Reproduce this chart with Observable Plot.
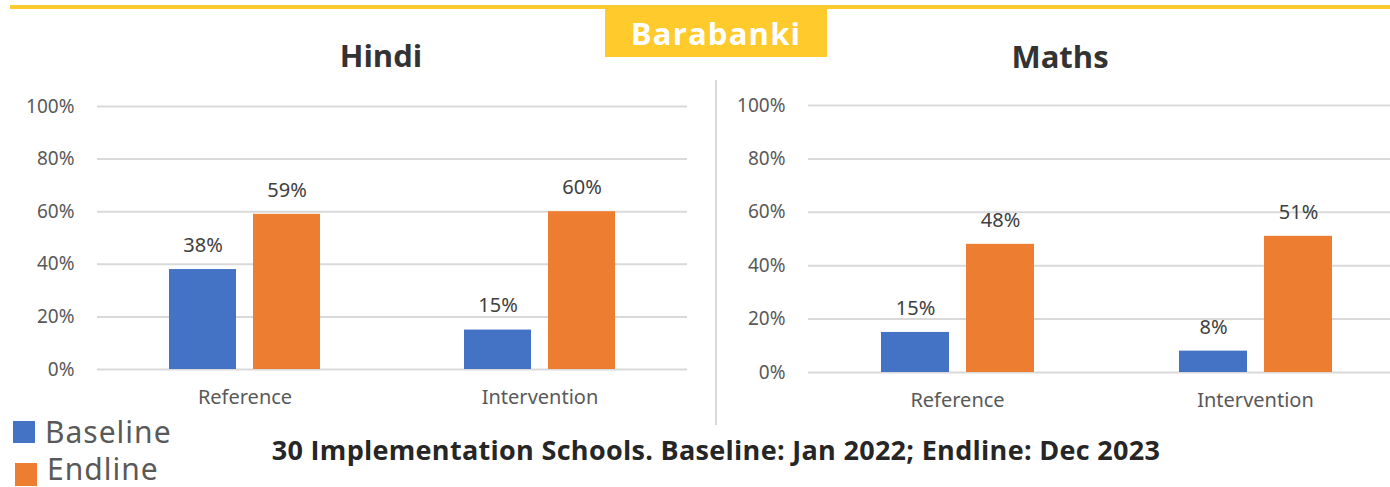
<!DOCTYPE html>
<html>
<head>
<meta charset="utf-8">
<script src="https://cdn.jsdelivr.net/npm/d3@7"></script>
<script src="https://cdn.jsdelivr.net/npm/@observablehq/plot@0.6"></script>
<style>
  html, body { margin: 0; padding: 0; background: #fff; }
  body { width: 1390px; height: 487px; overflow: hidden; position: relative; }
  .abs { position: absolute; }
  .topline { left: 10px; top: 5px; width: 1380px; height: 4px; background: #FFCA2C; }
  .badge { left: 605px; top: 8px; width: 222px; height: 49px; background: #FFCA2C; color: #fff;
           font: bold 31px "Open Sans", sans-serif; letter-spacing: 1.2px; display: flex; align-items: center; justify-content: center; }
  .title { font: bold 31px "Open Sans", sans-serif; color: #333; transform: translate(-50%, -50%); white-space: nowrap; line-height: 1; }
  .divider { left: 715px; top: 80px; width: 2px; height: 345px; background: #D9D9D9; }
  .sw { width: 22px; height: 22px; }
  .leg { font: 30px "Noto Sans", sans-serif; letter-spacing: 1px; color: #595959; transform: translateY(-50%); line-height: 1; white-space: nowrap; }
  .caption { left: 716px; top: 449px; transform: translate(-50%, -50%); font: bold 27px "Open Sans", sans-serif; letter-spacing: 0.3px; color: #262626; white-space: nowrap; line-height: 1; }
  .chart { width: 700px; height: 420px; }
  .chart svg { max-width: none !important; }
</style>
</head>
<body>
<div class="abs topline"></div>
<div class="abs badge" id="badge"></div>
<div class="abs divider"></div>
<div class="abs title" id="t1" style="left:381px; top:55px;"></div>
<div class="abs title" id="t2" style="left:1060px; top:56px;"></div>
<div class="abs chart" id="c1" style="left:0px; top:0px;"></div>
<div class="abs chart" id="c2" style="left:720px; top:0px;"></div>
<div class="abs sw" style="left:13px; top:421px; background:#4472C4;"></div>
<div class="abs leg" id="l1" style="left:45px; top:432px;"></div>
<div class="abs sw" style="left:15px; top:463px; height:23px; background:#ED7D31;"></div>
<div class="abs leg" id="l2" style="left:47px; top:469px;"></div>
<div class="abs caption" id="cap"></div>
<script>
const district = "Barabanki";
const subjects = ["Hindi", "Maths"];
const categories = ["Reference", "Intervention"];
const series = ["Baseline", "Endline"];
const hindiBaseline = [38, 15];
const hindiEndline = [59, 60];
const mathsBaseline = [15, 8];
const mathsEndline = [48, 51];
const yTicks = [0, 20, 40, 60, 80, 100];
const colors = ["#4472C4", "#ED7D31"];
const captionText = "30 Implementation Schools. Baseline: Jan 2022; Endline: Dec 2023";

document.getElementById("badge").textContent = district;
document.getElementById("t1").textContent = subjects[0];
document.getElementById("t2").textContent = subjects[1];
document.getElementById("l1").textContent = series[0];
document.getElementById("l2").textContent = series[1];
document.getElementById("cap").textContent = captionText;

function chart(baseline, endline, m) {
  const data = categories.flatMap((c, i) => [
    {category: c, series: series[0], value: baseline[i]},
    {category: c, series: series[1], value: endline[i]}
  ]);
  return Plot.plot({
    width: 700,
    height: 420,
    marginLeft: m.left,
    marginRight: m.right,
    marginTop: m.top,
    marginBottom: m.bottom,
    style: {fontFamily: "'Noto Sans', sans-serif", fontSize: "19px", color: "#595959", background: "transparent", overflow: "visible", maxWidth: "none"},
    fx: {domain: categories, padding: 0, label: null},
    x: {domain: series, paddingInner: 0.2, paddingOuter: 0.85, axis: null},
    y: {domain: [0, 100], label: null},
    color: {domain: series, range: colors},
    marks: [
      Plot.gridY(yTicks, {stroke: "#D9D9D9", strokeOpacity: 1, strokeWidth: 2}),
      Plot.axisY(yTicks, {tickSize: 0, tickPadding: 23, tickFormat: d => d + "%", label: null, fontSize: 19}),
      Plot.axisFx({anchor: "bottom", tickSize: 0, tickPadding: 20, label: null, fontSize: 20}),
      Plot.barY(data, {fx: "category", x: "series", y: "value", fill: "series"}),
      Plot.text(data, {fx: "category", x: "series", y: "value", text: d => d.value + "%", dy: -24, fill: "#404040", fontSize: 20})
    ]
  });
}

document.getElementById("c1").appendChild(chart(hindiBaseline, hindiEndline, {left: 96, right: 13, top: 106, bottom: 51}));
document.getElementById("c2").appendChild(chart(mathsBaseline, mathsEndline, {left: 88, right: 16, top: 105, bottom: 48}));
</script>
</body>
</html>
